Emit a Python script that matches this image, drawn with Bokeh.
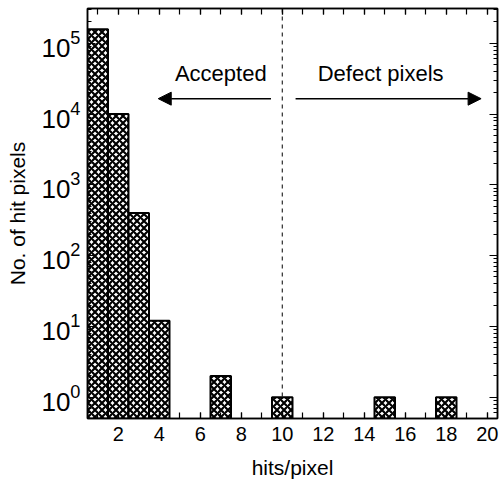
from bokeh.plotting import figure
from bokeh.models import (ColumnDataSource, LinearAxis, LogAxis, SingleIntervalTicker,
                          LogTicker, Span, Arrow, NormalHead, Label, Range1d,
                          CustomJSTickFormatter)
from bokeh.embed import file_html
from bokeh.resources import INLINE

# Data
hits = [1, 2, 3, 4, 7, 10, 15, 18]
counts = [158000, 10000, 400, 12, 2, 1, 1, 1]
threshold = 10
left_text = "Accepted"
right_text = "Defect pixels"
x_label = "hits/pixel"
y_label = "No. of hit pixels"

FONT = "Liberation Sans"
y_start = 0.5

src = ColumnDataSource(dict(x=hits, top=counts, bottom=[y_start] * len(hits)))

p = figure(width=501, height=484, y_axis_type="log",
           x_range=Range1d(0.5, 20.5), y_range=Range1d(y_start, 3.1e5),
           output_backend="svg", toolbar_location=None,
           min_border_left=87, min_border_right=4, min_border_top=8, min_border_bottom=66)
p.xgrid.visible = False
p.ygrid.visible = False
p.background_fill_color = "white"
p.border_fill_color = "white"
p.outline_line_color = "black"
p.outline_line_width = 1.5

# dashed threshold line (under bars)
p.add_layout(Span(location=threshold, dimension="height", line_color="black",
                  line_dash="4 4", line_width=1, level="underlay"))

p.vbar(x="x", top="top", bottom="bottom", width=1.0, source=src,
       fill_color="white", line_color="black", line_width=2,
       hatch_pattern="x", hatch_color="black", hatch_scale=7, hatch_weight=2.2)

def style_x(ax):
    ax.ticker = SingleIntervalTicker(interval=2, num_minor_ticks=2)
    ax.major_tick_in = 6
    ax.major_tick_out = 0
    ax.minor_tick_in = 6
    ax.minor_tick_out = 0
    ax.axis_line_color = "black"
    ax.axis_line_width = 1.5
    ax.major_tick_line_width = 1.2
    ax.minor_tick_line_width = 1.2
    ax.major_label_text_font = FONT
    ax.major_label_text_font_size = "20px"
    ax.major_label_text_color = "black"
    ax.major_label_standoff = 8

def style_y(ax):
    ax.ticker = LogTicker(num_minor_ticks=10)
    ax.major_tick_in = 8
    ax.major_tick_out = 0
    ax.minor_tick_in = 4
    ax.minor_tick_out = 0
    ax.axis_line_color = "black"
    ax.axis_line_width = 1.5
    ax.major_tick_line_width = 1.2
    ax.minor_tick_line_width = 1.0
    ax.major_label_text_font = FONT
    ax.major_label_text_font_size = "26px"
    ax.major_label_text_color = "black"
    ax.major_label_standoff = 7

style_x(p.xaxis[0])
style_y(p.yaxis[0])
p.xaxis[0].axis_label = x_label
p.yaxis[0].axis_label = y_label
for ax in (p.xaxis[0], p.yaxis[0]):
    ax.axis_label_text_font = FONT
    ax.axis_label_text_font_size = "21px"
    ax.axis_label_text_font_style = "normal"
    ax.axis_label_text_color = "black"
    ax.axis_label_standoff = 12
p.yaxis[0].axis_label_standoff = 9

blank = CustomJSTickFormatter(code="return ''")
top_ax = LinearAxis()
style_x(top_ax)
top_ax.formatter = blank
top_ax.major_label_standoff = 0
p.add_layout(top_ax, "above")
right_ax = LogAxis()
style_y(right_ax)
right_ax.formatter = blank
right_ax.major_label_standoff = 0
p.add_layout(right_ax, "right")

# arrows
head = dict(size=13, fill_color="black", line_color="black")
p.add_layout(Arrow(x_start=9.45, y_start=16500, x_end=3.95, y_end=16500,
                   end=NormalHead(**head), line_width=1.5, line_color="black"))
p.add_layout(Arrow(x_start=10.65, y_start=16500, x_end=19.7, y_end=16500,
                   end=NormalHead(**head), line_width=1.5, line_color="black"))

p.add_layout(Label(x=7.0, y=37000, text=left_text, text_align="center", text_baseline="middle",
                   text_font=FONT, text_font_size="22px", text_color="black"))
p.add_layout(Label(x=14.8, y=37000, text=right_text, text_align="center", text_baseline="middle",
                   text_font=FONT, text_font_size="22px", text_color="black"))

open("out.html", "w").write(file_html(p, INLINE))
